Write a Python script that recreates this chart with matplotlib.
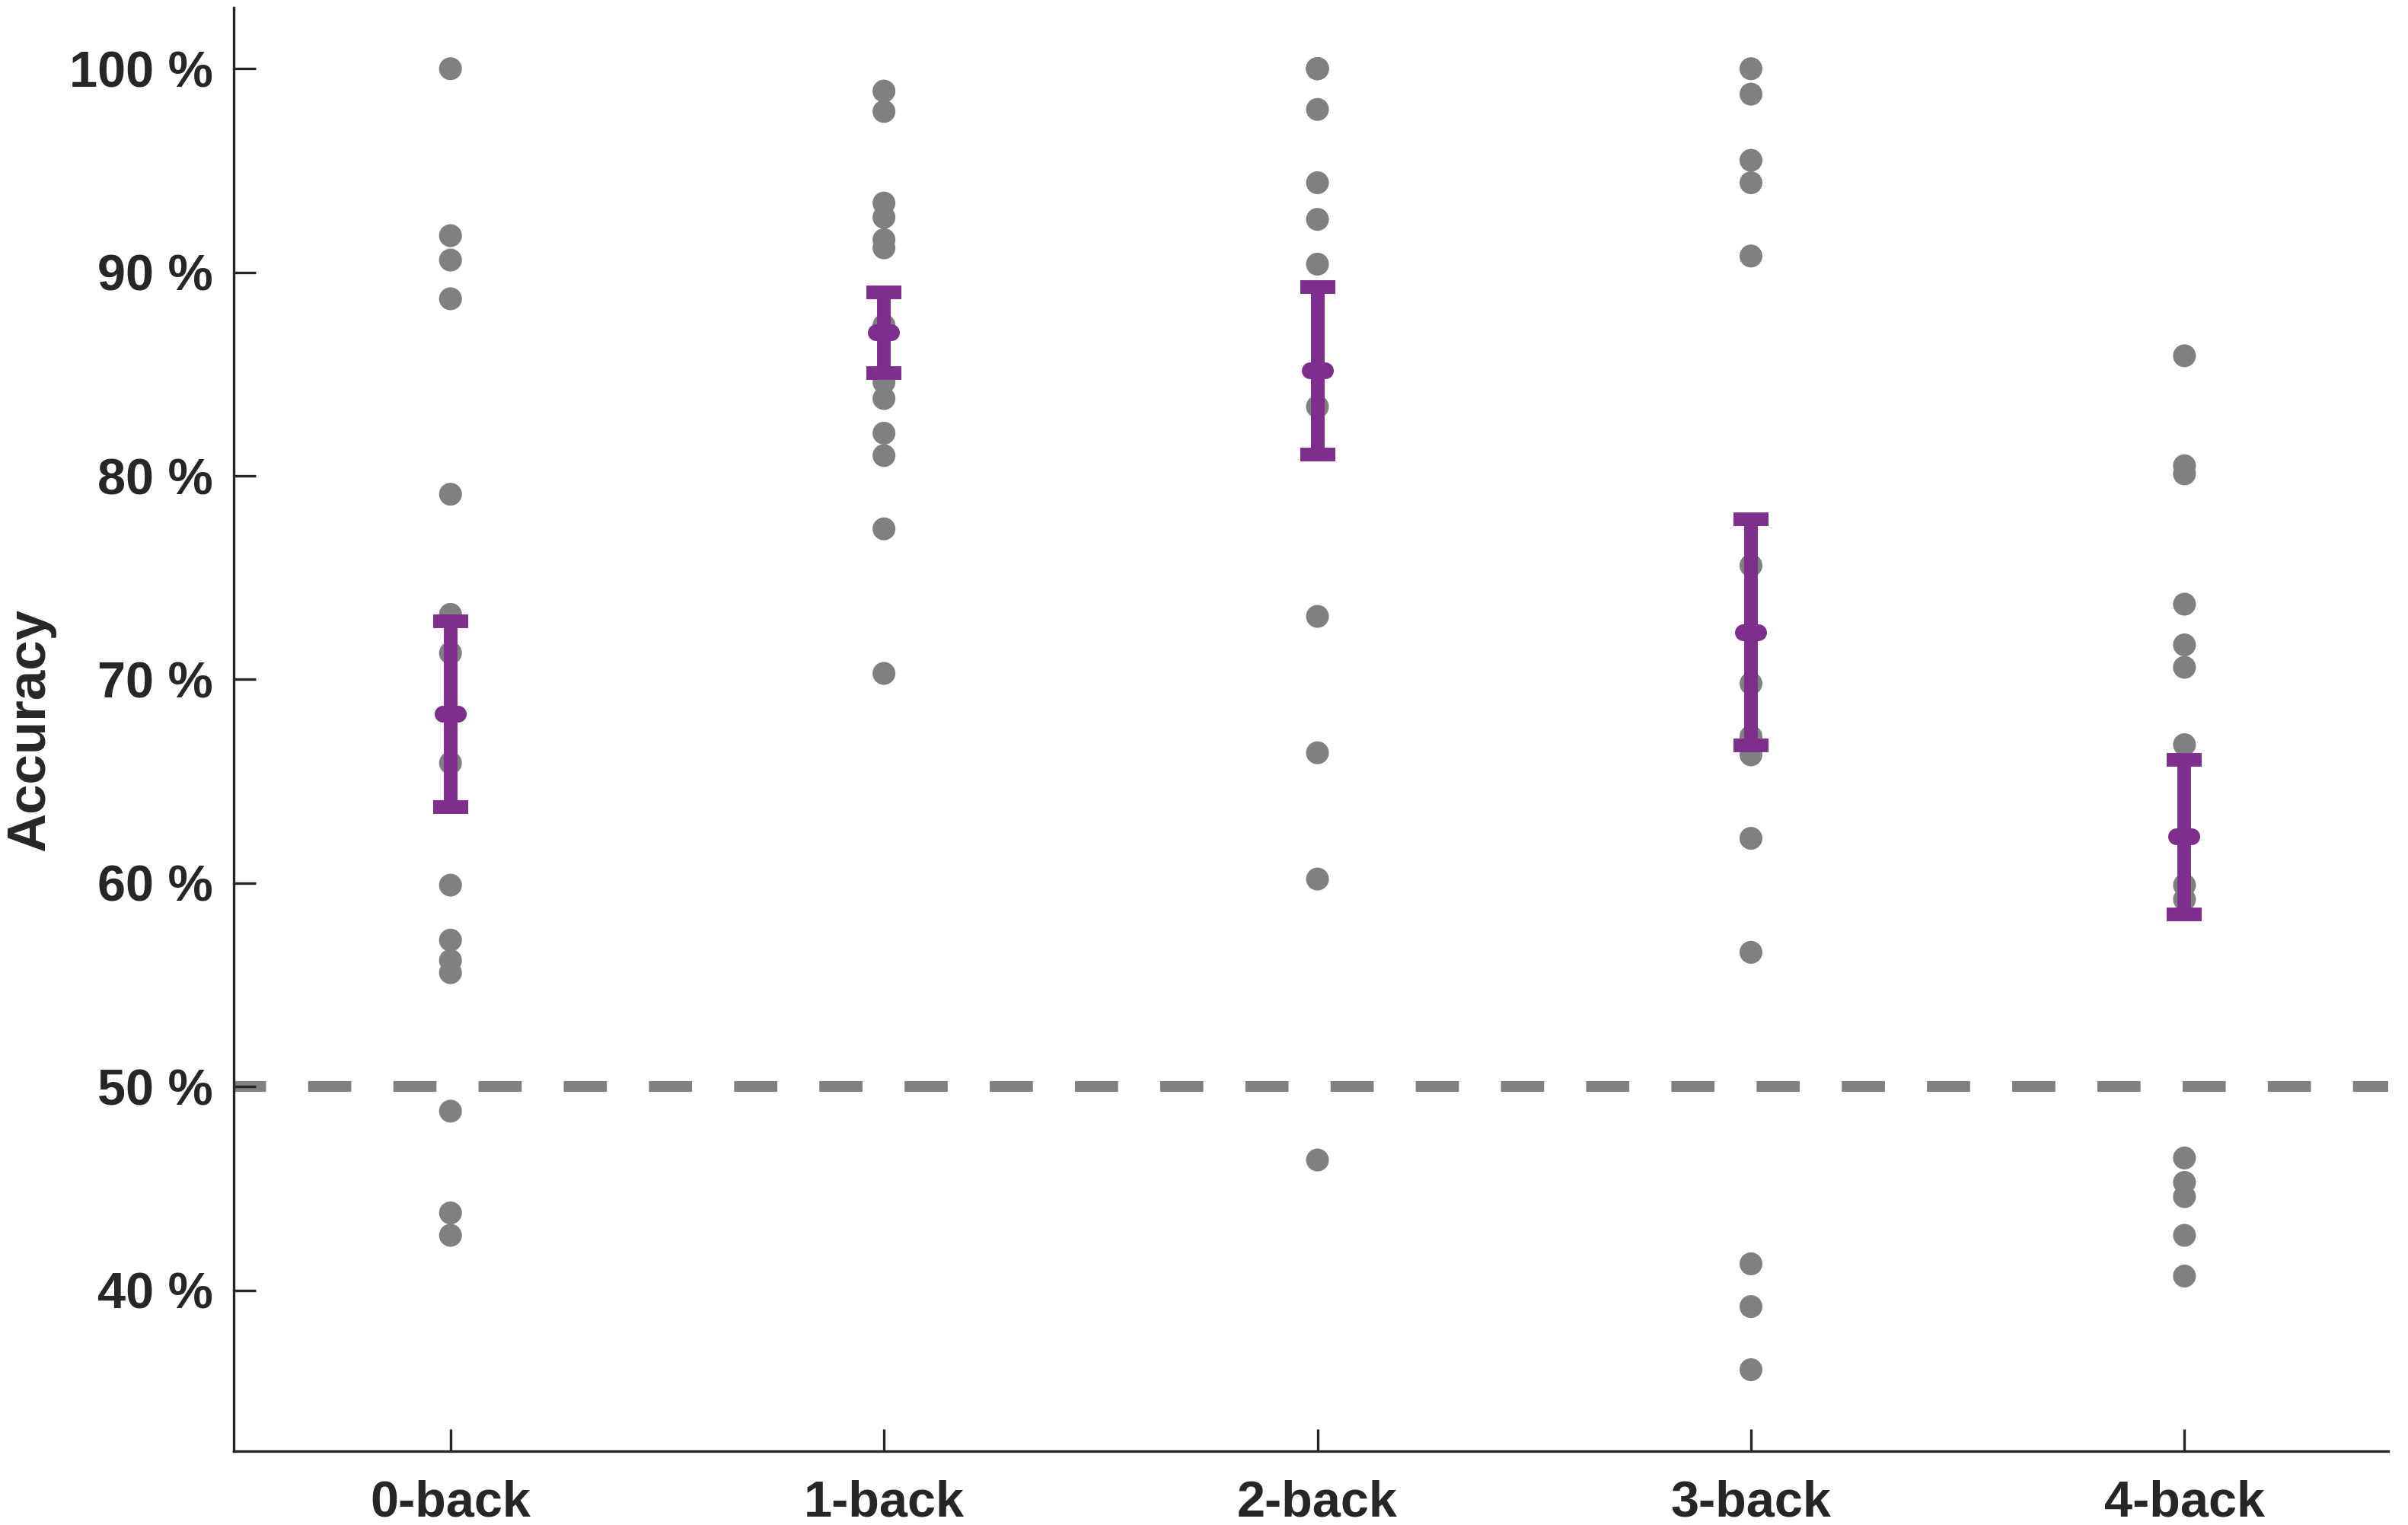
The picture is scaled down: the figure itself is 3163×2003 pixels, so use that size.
import matplotlib
matplotlib.use("Agg")
import matplotlib.pyplot as plt
from matplotlib.markers import MarkerStyle

# ---- data ----
categories = ["0-back", "1-back", "2-back", "3-back", "4-back"]

zero_back = [100.0, 91.8, 90.6, 88.7, 79.1, 73.2, 71.3, 65.9, 59.9, 57.2, 56.2, 55.6, 48.8, 43.8, 42.7]
one_back = [98.9, 97.9, 93.4, 92.7, 91.6, 91.2, 87.4, 84.6, 83.8, 82.1, 81.0, 77.4, 70.3]
two_back = [100.0, 100.0, 100.0, 100.0, 98.0, 94.4, 92.6, 90.4, 83.4, 73.1, 66.4, 60.2, 46.4]
three_back = [100.0, 98.75, 95.5, 94.4, 90.8, 75.6, 69.8, 67.2, 66.3, 62.2, 56.6, 41.3, 39.2, 36.1]
four_back = [85.9, 80.5, 80.1, 73.7, 71.7, 70.6, 66.8, 59.9, 59.2, 46.5, 45.3, 44.6, 42.7, 40.7]
groups = [zero_back, one_back, two_back, three_back, four_back]

means = [68.29, 87.03, 85.17, 72.31, 62.27]
sems = [4.57, 1.97, 4.12, 5.55, 3.80]

chance_level = 50
yticks = [40, 50, 60, 70, 80, 90, 100]

# ---- style ----
DPI = 300
W, H = 3163, 2003
gray = "#808080"
purple = "#7E2F8E"
dark = "#262626"
font = ["Liberation Sans", "DejaVu Sans"]
plt.rcParams["font.family"] = font
plt.rcParams["font.weight"] = "bold"

fig = plt.figure(figsize=(W / DPI, H / DPI), dpi=DPI)
ax = fig.add_axes([307 / W, 1 - 1906 / H, (3137 - 307) / W, (1906 - 10) / H])

xs = list(range(1, len(categories) + 1))

ax.axhline(chance_level, color=gray, lw=3.4, linestyle=(1.0, (4.0, 3.9)), zorder=1)

for x, vals in zip(xs, groups):
    ax.scatter([x] * len(vals), vals, s=52, color=gray, edgecolors="none", zorder=2)

ax.errorbar(xs, means, yerr=sems, fmt="none", ecolor=purple, elinewidth=4.3,
            capsize=5.5, capthick=4.3, zorder=3)
ax.plot(xs, means, linestyle="none",
        marker=MarkerStyle("_", capstyle="round"), markersize=4.8,
        markeredgewidth=5.3, color=purple, zorder=4)

ax.set_xlim(0.5, 5.47)
ax.set_ylim(32.1, 103.0)
ax.set_xticks(xs)
ax.set_xticklabels(categories)
ax.set_yticks(yticks)
ax.set_yticklabels([f"{v} %" for v in yticks])

for s in ["top", "right"]:
    ax.spines[s].set_visible(False)
for s in ["left", "bottom"]:
    ax.spines[s].set_linewidth(0.8)
    ax.spines[s].set_color(dark)

ax.tick_params(axis="both", direction="in", length=7, width=0.8, color=dark,
               labelcolor=dark, labelsize=16)
ax.tick_params(axis="y", pad=6.5)
ax.tick_params(axis="x", pad=9.0)
for lab in ax.get_xticklabels() + ax.get_yticklabels():
    lab.set_fontweight("bold")

ax.set_ylabel("Accuracy", fontsize=17, fontweight="bold", color=dark, va="center")
ax.yaxis.set_label_coords(-0.0943, 0.5)

fig.savefig("out.png", dpi=DPI)
